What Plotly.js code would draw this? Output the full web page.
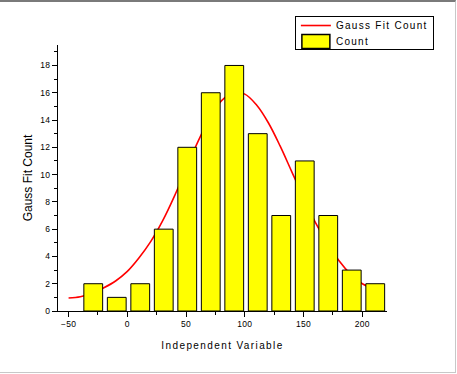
<!DOCTYPE html>
<html>
<head>
<meta charset="utf-8">
<script src="https://cdn.plot.ly/plotly-3.0.1.min.js"></script>
<style>
  html, body { margin: 0; padding: 0; background: #fff; }
  #frame { position: absolute; left: 0; top: 0; width: 455px; height: 370px;
           border-top: 2px solid #7a7a7a; border-right: 1px solid #c8c8c8; border-bottom: 1px solid #c8c8c8; }
  #chart { position: absolute; left: 0; top: 0; width: 457px; height: 374px; }
  .legendtext { letter-spacing: 1.3px; }
  .xtitle { letter-spacing: 1.4px; }
  .xtick text, .ytick text { letter-spacing: 0.3px; }
</style>
</head>
<body>
<div id="frame"></div>
<div id="chart"></div>
<script>
// Histogram bins (centers) and counts
var binCenters = [-29, -9, 11, 31, 51, 71, 91, 111, 131, 151, 171, 191, 211];
var counts     = [2, 1, 2, 6, 12, 16, 18, 13, 7, 11, 7, 3, 2];

// Gauss fit curve
var fitX = [-50, -40, -30, -20, -10, 0, 10, 20, 30, 40, 50, 60, 70, 80, 90, 100, 110, 120, 130, 140, 150, 160, 170, 180, 190, 200, 205];
var fitY = [0.95, 1.05, 1.3, 1.7, 2.2, 2.9, 3.9, 5.1, 6.6, 8.4, 10.4, 12.4, 14.1, 15.4, 16.0, 15.9, 15.1, 13.8, 12.1, 10.2, 8.3, 6.5, 5.0, 3.7, 2.7, 2.0, 1.8];

var xTickVals = [-50, 0, 50, 100, 150, 200];
var yTickVals = [0, 2, 4, 6, 8, 10, 12, 14, 16, 18];

var xRange = [-59, 221];
var yRange = [0, 19.5];

var traces = [
  {
    type: 'scatter', mode: 'lines', name: 'Gauss Fit Count',
    x: fitX, y: fitY, xaxis: 'x', yaxis: 'y',
    line: { color: '#ff0000', width: 1.6, shape: 'spline' }
  },
  {
    type: 'bar', name: 'Count',
    x: binCenters, y: counts, xaxis: 'x2', yaxis: 'y2',
    width: 16,
    marker: { color: '#ffff00', line: { color: '#000000', width: 1 } }
  }
];

var axFont = { family: 'Liberation Sans, Arial, sans-serif', size: 8.5, color: '#000' };

var layout = {
  width: 457, height: 374,
  margin: { l: 58, r: 70, t: 45, b: 63 },
  paper_bgcolor: 'rgba(0,0,0,0)', plot_bgcolor: 'rgba(0,0,0,0)',
  font: { family: 'Liberation Sans, Arial, sans-serif', color: '#000' },
  showlegend: true,
  legend: {
    x: 0.72, y: 1.109, xanchor: 'left', yanchor: 'top',
    bgcolor: '#ffffff', bordercolor: '#000000', borderwidth: 1,
    font: { family: 'Liberation Sans, Arial, sans-serif', size: 10, color: '#000' },
    tracegroupgap: 0
  },
  xaxis: {
    range: xRange, tickmode: 'array', tickvals: xTickVals,
    ticks: 'outside', ticklen: 5, tickwidth: 1, tickcolor: '#000',
    minor: { tickmode: 'array', tickvals: [-25, 25, 75, 125, 175], ticks: 'outside', ticklen: 3, tickcolor: '#000', showgrid: false },
    showline: true, linecolor: '#000', linewidth: 1,
    showgrid: false, zeroline: false, tickfont: axFont,
    title: { text: 'Independent Variable', font: { family: 'Liberation Sans, Arial, sans-serif', size: 10, color: '#000' }, standoff: 13 }
  },
  yaxis: {
    range: yRange, tickmode: 'array', tickvals: yTickVals,
    ticks: 'outside', ticklen: 5, tickwidth: 1, tickcolor: '#000',
    minor: { dtick: 1, ticks: 'outside', ticklen: 3, tickcolor: '#000', showgrid: false },
    showline: true, linecolor: '#000', linewidth: 1,
    showgrid: false, zeroline: false, tickfont: axFont,
    title: { text: 'Gauss Fit Count', font: { family: 'Liberation Sans, Arial, sans-serif', size: 12, color: '#000' }, standoff: 5 }
  },
  xaxis2: { overlaying: 'x', range: xRange, visible: false, showgrid: false, zeroline: false },
  yaxis2: { overlaying: 'y', range: yRange, visible: false, showgrid: false, zeroline: false }
};

Plotly.newPlot('chart', traces, layout, { displayModeBar: false, staticPlot: true }).then(function () {
  var leg = document.querySelector('.legend');
  if (!leg) return;
  var items = leg.querySelectorAll('.traces');
  // compact rows like the original legend box
  var rowY = [9.5, 25.5];
  items.forEach(function (g, i) {
    var t = g.getAttribute('transform') || '';
    var m = /translate\(\s*([-\d.]+)[ ,]+([-\d.]+)\s*\)/.exec(t);
    var x = m ? parseFloat(m[1]) : 1;
    g.setAttribute('transform', 'translate(' + x + ',' + rowY[i] + ')');
  });
  var bg = leg.querySelector('.bg');
  if (bg) { bg.setAttribute('height', '33'); }
  var sb = leg.querySelector('.scrollbox');
  if (sb) { sb.removeAttribute('clip-path'); }
  // widen the bar legend swatch like the original
  if (items.length > 1) {
    var p = items[1].querySelector('.legendpoints path');
    if (p) { p.setAttribute('d', 'M14,7H-14V-7H14Z'); p.style.strokeWidth = '1.5px'; }
  }
});
</script>
</body>
</html>
